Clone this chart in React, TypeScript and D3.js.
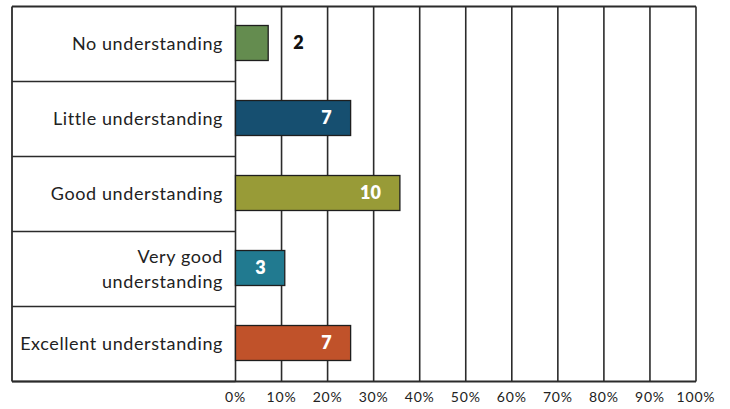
import React from "react";
import * as d3 from "d3";

// Survey responses: level of understanding
const categories = [
  "No understanding",
  "Little understanding",
  "Good understanding",
  "Very good understanding",
  "Excellent understanding",
];
const categoryLines = [
  ["No understanding"],
  ["Little understanding"],
  ["Good understanding"],
  ["Very good", "understanding"],
  ["Excellent understanding"],
];
const counts = [2, 7, 10, 3, 7];
const percents = [7.1, 25, 35.7, 10.7, 25];
const barColors = ["#648c4f", "#164f70", "#989b37", "#217a90", "#c0522a"];
const tickValues = [0, 10, 20, 30, 40, 50, 60, 70, 80, 90, 100];

const W = 730;
const H = 409;
const frameLeft = 12;
const plotLeft = 235.5;
const plotRight = 696;
const top = 6.5;
const bottom = 381.5;
const barH = 35;
const font = "Lato, 'Open Sans', sans-serif";
const ink = "#2b2b2b";

export default function App() {
  const x = d3.scaleLinear().domain([0, 100]).range([plotLeft, plotRight]);
  const y = d3.scaleBand<string>().domain(categories).range([top, bottom]).padding(0);
  const band = y.bandwidth();

  return (
    <svg
      width={W}
      height={H}
      style={{ position: "absolute", left: 0, top: 0, background: "#fff" }}
    >
      {/* vertical gridlines */}
      {tickValues.map((t) => (
        <line
          key={"g" + t}
          x1={x(t)}
          x2={x(t)}
          y1={top}
          y2={bottom}
          stroke={ink}
          strokeWidth={1.6}
        />
      ))}
      {/* category rows */}
      {categories.map((c, i) => (
        <line
          key={"r" + i}
          x1={frameLeft}
          x2={plotLeft}
          y1={(y(c) as number) + band}
          y2={(y(c) as number) + band}
          stroke={ink}
          strokeWidth={1.6}
        />
      ))}
      {/* frame */}
      <line x1={frameLeft} x2={plotRight} y1={top} y2={top} stroke={ink} strokeWidth={1.8} />
      <line x1={frameLeft} x2={plotRight} y1={bottom} y2={bottom} stroke={ink} strokeWidth={1.8} />
      <line x1={frameLeft} x2={frameLeft} y1={top} y2={bottom} stroke={ink} strokeWidth={1.8} />

      {/* category labels */}
      {categories.map((c, i) => {
        const cy = (y(c) as number) + band / 2;
        const lines = categoryLines[i];
        const lh = 25;
        const start = cy - ((lines.length - 1) * lh) / 2;
        return (
          <text
            key={"l" + i}
            textAnchor="end"
            fontFamily={font}
            fontSize={18}
            letterSpacing={0.6}
            fill="#222"
          >
            {lines.map((ln, j) => (
              <tspan key={j} x={223} y={start + j * lh} dy="0.35em">
                {ln}
              </tspan>
            ))}
          </text>
        );
      })}

      {/* bars */}
      {categories.map((c, i) => {
        const cy = (y(c) as number) + band / 2 - 1;
        const x1 = x(percents[i]);
        const inside = x1 - x(0) > 40;
        return (
          <g key={"b" + i}>
            <rect
              x={x(0)}
              y={cy - barH / 2}
              width={x1 - x(0)}
              height={barH}
              fill={barColors[i]}
              stroke="#1e1e1e"
              strokeWidth={1.3}
            />
            <text
              x={inside ? x1 - 19 : x1 + 25}
              y={cy}
              dy="0.35em"
              textAnchor={inside ? "end" : "start"}
              fontFamily={font}
              fontWeight={800}
              fontSize={18}
              fill={inside ? "#fff" : "#111"}
            >
              {counts[i]}
            </text>
          </g>
        );
      })}

      {/* x tick labels */}
      {tickValues.map((t) => (
        <text
          key={"t" + t}
          x={x(t)}
          y={397}
          dy="0.35em"
          textAnchor="middle"
          fontFamily={font}
          fontSize={14}
          letterSpacing={0.8}
          fill="#222"
        >
          {t + "%"}
        </text>
      ))}
    </svg>
  );
}
